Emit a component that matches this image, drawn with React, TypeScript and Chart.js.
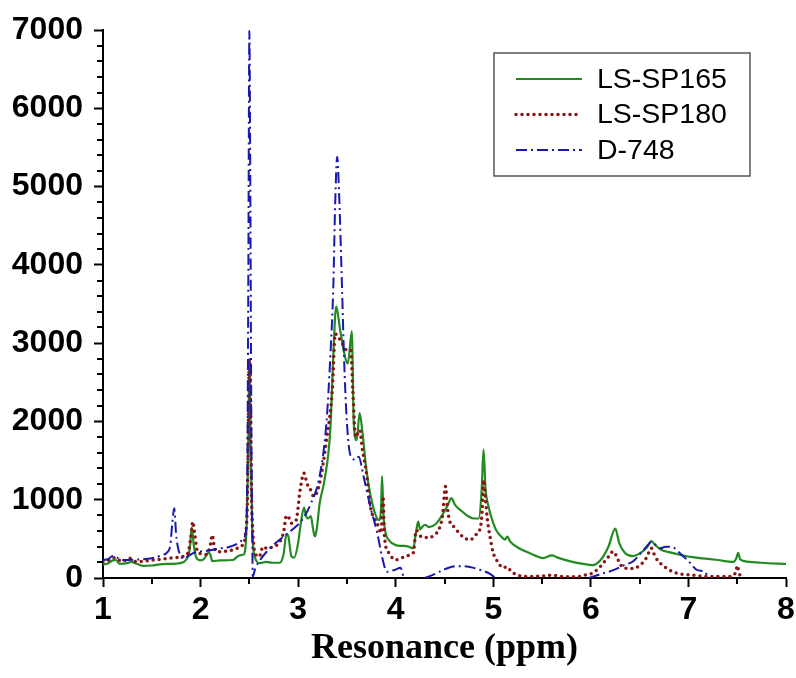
import React, { useEffect, useRef } from 'react';
import { Chart, registerables } from 'chart.js';

Chart.register(...registerables);

// ---------- data ----------
const seriesNames = ['LS-SP165', 'LS-SP180', 'D-748'];
const xAxisTitle = 'Resonance (ppm)';

const xTickValues = [1, 2, 3, 4, 5, 6, 7, 8];
const yTickValues = [0, 1000, 2000, 3000, 4000, 5000, 6000, 7000];
const xMinorTicks = [1.5, 2.5, 3.5, 4.5, 5.5, 6.5, 7.5];
const yMinorTicks = [200, 400, 600, 800, 1200, 1400, 1600, 1800, 2200, 2400, 2600, 2800, 3200, 3400, 3600, 3800, 4200, 4400, 4600, 4800, 5200, 5400, 5600, 5800, 6200, 6400, 6600, 6800];

const greenX = [1.00, 1.05, 1.10, 1.13, 1.17, 1.25, 1.29, 1.34, 1.41, 1.50, 1.61, 1.70, 1.79, 1.85, 1.89, 1.91, 1.93, 1.96, 2.00, 2.04, 2.08, 2.10, 2.12, 2.20, 2.33, 2.40, 2.44, 2.47, 2.49, 2.50, 2.51, 2.53, 2.56, 2.61, 2.67, 2.74, 2.81, 2.85, 2.88, 2.90, 2.93, 2.96, 3.00, 3.03, 3.06, 3.08, 3.10, 3.13, 3.15, 3.17, 3.19, 3.22, 3.27, 3.33, 3.36, 3.39, 3.43, 3.48, 3.51, 3.55, 3.57, 3.60, 3.63, 3.66, 3.70, 3.76, 3.83, 3.85, 3.86, 3.875, 3.90, 3.93, 4.00, 4.07, 4.13, 4.18, 4.21, 4.23, 4.25, 4.27, 4.30, 4.34, 4.41, 4.49, 4.54, 4.57, 4.61, 4.67, 4.73, 4.80, 4.85, 4.88, 4.90, 4.92, 4.95, 5.00, 5.03, 5.08, 5.12, 5.145, 5.17, 5.25, 5.37, 5.51, 5.60, 5.66, 5.80, 5.92, 6.02, 6.10, 6.18, 6.25, 6.29, 6.35, 6.43, 6.52, 6.58, 6.62, 6.66, 6.72, 6.80, 6.90, 7.02, 7.15, 7.30, 7.46, 7.49, 7.51, 7.53, 7.60, 7.75, 8.00];
const greenY = [175, 185, 225, 230, 180, 190, 205, 185, 155, 160, 178, 180, 190, 230, 380, 650, 420, 250, 225, 250, 320, 300, 215, 225, 230, 290, 300, 600, 1800, 2800, 1900, 600, 250, 190, 205, 195, 195, 300, 560, 530, 280, 260, 450, 720, 900, 800, 760, 790, 650, 530, 620, 950, 1250, 1900, 2830, 3470, 3170, 2830, 2740, 3150, 1980, 1760, 2110, 1850, 1380, 950, 740, 900, 1300, 800, 560, 485, 420, 410, 400, 380, 600, 720, 620, 650, 680, 650, 690, 830, 950, 1020, 930, 860, 800, 760, 760, 1100, 1640, 1150, 920, 700, 610, 530, 490, 530, 470, 390, 320, 255, 290, 260, 210, 180, 165, 230, 400, 630, 450, 320, 280, 330, 400, 470, 420, 360, 330, 300, 270, 250, 230, 205, 250, 320, 240, 210, 195, 180];

const redX = [1.00, 1.05, 1.10, 1.13, 1.20, 1.27, 1.34, 1.42, 1.51, 1.60, 1.68, 1.75, 1.82, 1.87, 1.90, 1.92, 1.94, 1.97, 2.02, 2.06, 2.10, 2.12, 2.14, 2.16, 2.23, 2.30, 2.37, 2.43, 2.46, 2.48, 2.49, 2.50, 2.51, 2.52, 2.54, 2.56, 2.60, 2.64, 2.69, 2.74, 2.80, 2.85, 2.88, 2.91, 2.93, 2.98, 3.02, 3.06, 3.09, 3.13, 3.16, 3.22, 3.29, 3.35, 3.38, 3.41, 3.45, 3.50, 3.54, 3.56, 3.59, 3.63, 3.66, 3.70, 3.74, 3.81, 3.85, 3.87, 3.885, 3.93, 4.00, 4.05, 4.10, 4.15, 4.18, 4.21, 4.24, 4.26, 4.30, 4.34, 4.40, 4.44, 4.48, 4.51, 4.53, 4.55, 4.60, 4.66, 4.72, 4.76, 4.82, 4.87, 4.89, 4.90, 4.92, 4.94, 4.97, 5.00, 5.05, 5.10, 5.14, 5.18, 5.24, 5.35, 5.50, 5.60, 5.70, 5.85, 5.95, 6.02, 6.10, 6.18, 6.23, 6.28, 6.33, 6.42, 6.50, 6.57, 6.62, 6.66, 6.72, 6.84, 6.95, 7.02, 7.20, 7.40, 7.46, 7.49, 7.50, 7.52, 7.55];
const redY = [210, 220, 260, 255, 210, 255, 210, 215, 230, 240, 255, 260, 275, 320, 520, 720, 560, 330, 310, 300, 420, 550, 400, 335, 340, 350, 380, 420, 560, 1000, 2000, 2800, 2400, 1200, 500, 320, 270, 400, 370, 400, 440, 580, 800, 760, 700, 740, 1120, 1340, 1210, 1120, 1040, 1210, 1760, 2400, 3120, 3080, 3000, 2910, 2910, 2400, 1800, 1890, 1630, 1340, 910, 700, 575, 1040, 530, 320, 230, 255, 270, 300, 320, 610, 560, 530, 520, 510, 560, 610, 800, 1170, 900, 740, 650, 560, 500, 485, 550, 660, 950, 1250, 1000, 740, 500, 320, 200, 130, 145, 90, 40, 20, 25, 35, 20, 15, 40, 65, 150, 270, 340, 230, 130, 120, 160, 260, 380, 270, 180, 80, 45, 40, 20, 20, 30, 100, 160, 60, 5];

const blueX = [1.00, 1.05, 1.10, 1.13, 1.20, 1.34, 1.51, 1.60, 1.66, 1.69, 1.71, 1.73, 1.75, 1.77, 1.82, 1.90, 1.95, 2.00, 2.08, 2.16, 2.30, 2.38, 2.43, 2.46, 2.48, 2.49, 2.50, 2.51, 2.52, 2.53, 2.535, 2.56, 2.61, 2.71, 2.85, 2.98, 3.05, 3.13, 3.22, 3.29, 3.33, 3.36, 3.38, 3.40, 3.42, 3.45, 3.47, 3.50, 3.54, 3.59, 3.62, 3.67, 3.74, 3.81, 3.86, 3.91, 3.95, 3.98, 4.05, 4.08, 4.10, 4.20, 4.30, 4.38, 4.50, 4.62, 4.70, 4.76, 4.85, 4.97, 5.02, 5.50, 5.98, 6.10, 6.23, 6.35, 6.43, 6.52, 6.57, 6.62, 6.66, 6.71, 6.77, 6.81, 6.86, 6.91, 7.02, 7.09, 7.16, 7.21];
const blueY = [230, 240, 280, 270, 230, 235, 255, 290, 330, 420, 700, 890, 550, 380, 250, 300, 330, 340, 350, 370, 400, 440, 485, 560, 1500, 4000, 6990, 5000, 2000, 500, 20, 120, 230, 380, 530, 660, 760, 950, 1300, 1980, 2830, 3700, 4800, 5380, 4900, 3700, 2830, 1980, 1550, 1510, 1550, 1300, 910, 580, 270, 80, 95, 100, 130, 20, 0, null, 0, 40, 110, 150, 150, 140, 110, 50, 0, null, 0, 50, 100, 170, 210, 330, 400, 460, 430, 380, 400, 400, 380, 320, 190, 100, 85, 0];

// ---------- styles ----------
const GREEN = 'rgb(34,140,34)';
const RED = 'rgb(140,20,20)';
const BLUE = 'rgb(25,25,175)';

const zip = (xs: number[], ys: (number | null)[]) => xs.map((x, i) => ({ x, y: ys[i] }));

const boxLegend = {
  id: 'boxLegend',
  afterDatasetsDraw(chart: any) {
    const ctx = chart.ctx;
    const ca = chart.chartArea;
    const x0 = ca.right - 292;
    const y0 = ca.top + 23;
    const w = 256;
    const h = 123;
    ctx.save();
    ctx.fillStyle = '#fff';
    ctx.fillRect(x0, y0, w, h);
    ctx.setLineDash([]);
    ctx.strokeStyle = '#555';
    ctx.lineWidth = 1.5;
    ctx.strokeRect(x0, y0, w, h);
    chart.data.datasets.forEach((ds: any, i: number) => {
      const cy = y0 + 26 + i * 35.5;
      ctx.save();
      ctx.setLineDash(ds.borderDash || []);
      ctx.lineCap = ds.borderCapStyle || 'butt';
      ctx.strokeStyle = ds.borderColor;
      ctx.lineWidth = ds.borderWidth;
      ctx.beginPath();
      ctx.moveTo(x0 + 22, cy);
      ctx.lineTo(x0 + 88, cy);
      ctx.stroke();
      ctx.restore();
      ctx.fillStyle = '#000';
      ctx.font = '28.5px "Liberation Sans", Arial, sans-serif';
      ctx.textBaseline = 'middle';
      ctx.textAlign = 'left';
      ctx.fillText(ds.label, x0 + 103, cy + 1);
    });
    ctx.restore();
  },
};

const minorTicksPlugin = {
  id: 'minorTicks',
  afterDraw(chart: any) {
    const { ctx, chartArea } = chart;
    const xs = chart.scales.x;
    const ys = chart.scales.y;
    ctx.save();
    ctx.strokeStyle = '#000';
    ctx.lineWidth = 2;
    ctx.setLineDash([]);
    for (const v of yMinorTicks) {
      const py = Math.round(ys.getPixelForValue(v));
      ctx.beginPath();
      ctx.moveTo(chartArea.left - 6, py);
      ctx.lineTo(chartArea.left, py);
      ctx.stroke();
    }
    for (const v of xMinorTicks) {
      const px = Math.round(xs.getPixelForValue(v));
      ctx.beginPath();
      ctx.moveTo(px, chartArea.bottom);
      ctx.lineTo(px, chartArea.bottom + 6);
      ctx.stroke();
    }
    ctx.restore();
  },
};

export default function App() {
  const ref = useRef<HTMLCanvasElement | null>(null);

  useEffect(() => {
    if (!ref.current) return;
    const tickFont = { family: '"Liberation Sans", Arial, sans-serif', size: 32, weight: 'bold' as const };
    const chart = new Chart(ref.current, {
      type: 'line',
      data: {
        datasets: [
          {
            label: seriesNames[0],
            data: zip(greenX, greenY),
            borderColor: GREEN,
            borderWidth: 2.2,
            pointRadius: 0,
            cubicInterpolationMode: 'monotone',
            order: 2,
          },
          {
            label: seriesNames[1],
            data: zip(redX, redY),
            borderColor: RED,
            borderWidth: 3.5,
            borderDash: [0, 6],
            borderCapStyle: 'round',
            pointRadius: 0,
            cubicInterpolationMode: 'monotone',
            order: 1,
          },
          {
            label: seriesNames[2],
            data: zip(blueX, blueY),
            borderColor: BLUE,
            borderWidth: 2,
            borderDash: [11, 4, 2, 4],
            pointRadius: 0,
            spanGaps: false,
            cubicInterpolationMode: 'monotone',
            order: 0,
          },
        ] as any,
      },
      options: {
        animation: false,
        responsive: false,
        parsing: true,
        layout: { padding: { top: 30, right: 10, left: 0, bottom: 0 } },
        plugins: {
          legend: { display: false },
          tooltip: { enabled: false },
        },
        scales: {
          x: {
            type: 'linear',
            min: 1,
            max: 8,
            z: 1,
            afterBuildTicks: (scale: any) => {
              scale.ticks = xTickValues.map((v) => ({ value: v }));
            },
            afterFit: (scale: any) => {
              scale.height = 100;
              scale.paddingLeft = 0;
              scale.paddingRight = 0;
            },
            ticks: {
              color: '#000',
              font: tickFont,
              padding: 4,
              maxRotation: 0,
              callback: (v: any) => String(v),
            },
            grid: {
              drawOnChartArea: false,
              drawTicks: true,
              tickLength: 9,
              tickColor: '#000',
              tickWidth: 2,
            },
            border: { display: true, color: '#000', width: 2 },
            title: {
              display: true,
              text: xAxisTitle,
              color: '#000',
              font: { family: '"Liberation Serif", "Times New Roman", serif', size: 36, weight: 'bold' },
              padding: { top: 0, bottom: 8 },
            },
          },
          y: {
            type: 'linear',
            min: 0,
            max: 7000,
            z: 1,
            afterBuildTicks: (scale: any) => {
              scale.ticks = yTickValues.map((v) => ({ value: v }));
            },
            afterFit: (scale: any) => {
              scale.width = 103;
              scale.paddingTop = 0;
              scale.paddingBottom = 0;
            },
            ticks: {
              color: '#000',
              font: tickFont,
              padding: 11,
              callback: (v: any) => String(v),
            },
            grid: {
              drawOnChartArea: false,
              drawTicks: true,
              tickLength: 9,
              tickColor: '#000',
              tickWidth: 2,
            },
            border: { display: true, color: '#000', width: 2 },
          },
        },
      } as any,
      plugins: [boxLegend, minorTicksPlugin],
    });
    return () => chart.destroy();
  }, []);

  return (
    <div style={{ position: 'absolute', left: 0, top: 0, width: 796, height: 678, background: '#fff' }}>
      <canvas ref={ref} width={796} height={678} />
    </div>
  );
}
